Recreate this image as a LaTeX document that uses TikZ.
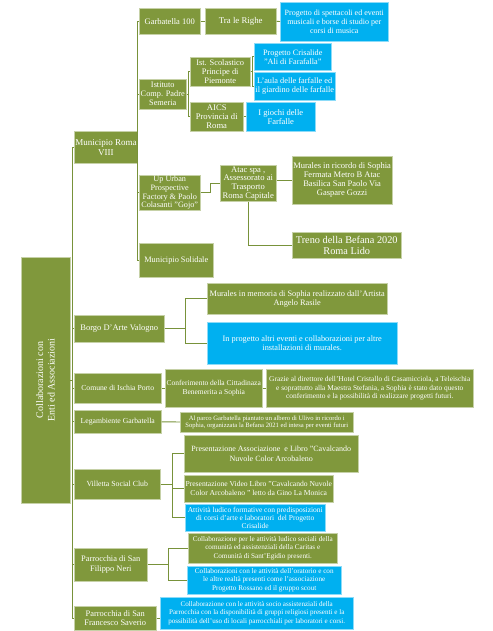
\documentclass[tikz,border=0pt]{standalone}
\usepackage{fontspec}
\setmainfont{Liberation Serif}
\usetikzlibrary{calc}
\definecolor{olivegrn}{RGB}{128,152,60}
\definecolor{skyblue} {RGB}{  0,176,240}
\definecolor{linkgrn} {RGB}{120,146,58}
\tikzset{
  gbox/.style      = {fill=olivegrn, draw=olivegrn!45!white, line width=0.5pt,
                      text=white, anchor=north west, align=center, inner sep=1pt},
  bbox/.style      = {gbox, fill=skyblue, draw=skyblue!45!white},
  fs/.style 2 args = {font=\fontsize{#1}{#2}\selectfont},
  sz/.style 2 args = {minimum width=#1, minimum height=#2},
  link/.style      = {draw=linkgrn, line width=0.9pt},
}

\begin{document}
\begin{tikzpicture}[x=1pt, y=-1pt]
  \useasboundingbox (0,0) rectangle (492,631);

  % ── root ──────────────────────────────────────────────────────────────────
  \node[gbox, anchor=center, rotate=90, sz={246}{49}, fs={10}{11.5}] (root)
    at (45.5,380) {Collaborazioni con\\Enti ed Associazioni};

  % ── first level ───────────────────────────────────────────────────────────
  \node[gbox, sz={61}{32}, fs={9}{10}]     (mun)      at (74,131) {Municipio Roma\\VIII};
  \node[gbox, sz={90}{27}, fs={8.5}{10}]   (borgo)    at (74,315) {Borgo D'Arte Valogno};
  \node[gbox, sz={87}{30}, fs={7.7}{9}]    (ischia)   at (74,373) {Comune di Ischia Porto};
  \node[gbox, sz={87}{23}, fs={7.7}{9}]    (legamb)   at (74,410) {Legambiente Garbatella};
  \node[gbox, sz={86}{30}, fs={7.8}{9}]    (villetta) at (74,469) {Villetta Social Club};
  \node[gbox, sz={73}{33}, fs={8.4}{9.6}]  (filippo)  at (74,548) {Parrocchia di San\\Filippo Neri};
  \node[gbox, sz={82}{24}, fs={8.4}{9.4}]  (saverio)  at (74,606) {Parrocchia di San\\Francesco Saverio};

  % ── Municipio Roma VIII ───────────────────────────────────────────────────
  \node[gbox, sz={61}{26}, fs={8.5}{10}]   (garb)  at (139,8)   {Garbatella 100};
  \node[gbox, sz={71}{26}, fs={8.8}{10}]   (righe) at (205,8)   {Tra le Righe};
  \node[bbox, sz={108}{39}, fs={8}{9.2}]   (spett) at (280,2)
    {Progetto di spettacoli ed eventi\\musicali e borse di studio per\\corsi di musica};

  \node[gbox, sz={47}{30}, fs={8.3}{9}]    (istit) at (139,79)  {Istituto\\Comp. Padre\\Semeria};
  \node[gbox, sz={60}{29}, fs={8.4}{9}]    (scol)  at (190,57)  {Ist. Scolastico\\Principe di\\Piemonte};
  \node[gbox, sz={53}{29}, fs={8.6}{9}]    (aics)  at (190,102) {AICS\\Provincia di\\Roma};
  \node[bbox, sz={77}{27}, fs={8.2}{9}]    (cris)  at (254,43)  {Progetto Crisalide\\"Ali di Farafalla"};
  \node[bbox, sz={81}{28}, fs={8.3}{9}]    (aula)  at (254,72)
    {L'aula delle farfalle ed\\il giardino delle farfalle};
  \node[bbox, sz={69}{29}, fs={8.5}{9.2}]  (giochi) at (246,102) {I giochi delle\\Farfalle};

  \node[gbox, sz={61}{34}, fs={8.2}{8.6}]  (upurb) at (139,175)
    {Up Urban\\Prospective\\Factory \& Paolo\\Colasanti "Gojo"};
  \node[gbox, sz={56}{36}, fs={8.6}{8.6}]  (atac)  at (220,165)
    {Atac spa ,\\Assessorato ai\\Trasporto\\Roma Capitale};
  \node[gbox, sz={99}{48}, fs={8.5}{9}]    (murric) at (292,156)
    {Murales in ricordo di Sophia\\Fermata Metro B Atac\\Basilica San Paolo Via\\Gaspare Gozzi};
  \node[gbox, sz={109}{26}, fs={10.3}{10.5}] (treno) at (292,232) {Treno della Befana 2020\\Roma Lido};

  \node[gbox, sz={74}{34}, fs={8.3}{10}]   (solid) at (139,243) {Municipio Solidale};

  % ── Borgo D'Arte Valogno ──────────────────────────────────────────────────
  \node[gbox, sz={180}{31}, fs={8.3}{9.4}] (murmem) at (207,283)
    {Murales in memoria di Sophia realizzato dall'Artista\\Angelo Rasile};
  \node[bbox, sz={190}{42}, fs={8.3}{9.4}] (inprog) at (207,322)
    {In progetto altri eventi e collaborazioni per altre\\installazioni di murales.};

  % ── Ischia / Legambiente ──────────────────────────────────────────────────
  \node[gbox, sz={97}{38}, fs={7.5}{8.8}]  (conf)   at (165,369)
    {Conferimento della Cittadinaza\\Benemerita a Sophia};
  \node[gbox, sz={207}{38}, fs={7.4}{8.4}] (grazie) at (266,369)
    {Grazie al direttore dell'Hotel Cristallo di Casamicciola, a Teleischia\\
     e soprattutto alla Maestra Stefania, a Sophia è stato dato questo\\
     conferimento e la possibilità di realizzare progetti futuri.};
  \node[gbox, sz={173}{20}, fs={6.6}{7.5}] (parco)  at (180,412)
    {Al parco Garbatella piantato un albero di Ulivo in ricordo i\\
     Sophia, organizzata la Befana 2021 ed intesa per eventi futuri};

  % ── Villetta Social Club ──────────────────────────────────────────────────
  \node[gbox, sz={174}{37}, fs={8}{9.2}]   (pres1) at (184,435)
    {Presentazione Associazione\ \ e Libro "Cavalcando\\Nuvole Color Arcobaleno};
  \node[gbox, sz={149}{27}, fs={7.6}{8.8}] (pres2) at (184,475)
    {Presentazione Video Libro "Cavalcando Nuvole\\Color Arcobaleno " letto da Gino La Monica};
  \node[bbox, sz={140}{27}, fs={7.5}{8.3}] (attiv) at (185,504)
    {Attività ludico formative con predisposizioni\\di corsi d'arte e laboratori\ \ del Progetto\\Crisalide};

  % ── Parrocchie ────────────────────────────────────────────────────────────
  \node[gbox, sz={149}{30}, fs={7.2}{8.4}] (collab)   at (188,533)
    {Collaborazione per le attività ludico sociali della\\comunità ed assistenziali della Caritas e\\
     Comunità di Sant'Egidio presenti.};
  \node[bbox, sz={154}{28}, fs={7.2}{8.4}] (oratorio) at (187,566)
    {Collaborazioni con le attività dell'oratorio e con\\le altre realtà presenti come l'associazione\\
     Progetto Rossano ed il gruppo scout};
  \node[bbox, sz={193}{32}, fs={7.1}{8.4}] (sblue)    at (160,597)
    {Collaborazione con le attività socio assistenziali della\\
     Parrocchia con la disponibilità di gruppi religiosi presenti e la\\
     possibilità dell'uso di locali parrocchiali per laboratori e corsi.};

  % ── connectors ────────────────────────────────────────────────────────────
  % root trunk
  \coordinate (rtop) at ($(mun.west)+(-2,0)$);
  \draw[link] (rtop) -- (rtop |- saverio.west);
  \draw[link] (root.south) -- (root.south -| rtop);
  \foreach \n in {mun,borgo,ischia,legamb,villetta,filippo,saverio}
    \draw[link] (\n.west -| rtop) -- (\n.west);

  % Municipio Roma VIII
  \coordinate (mtop) at ($(garb.west)+(-2,0)$);
  \draw[link] (mtop) -- (mtop |- solid.west);
  \draw[link] (mun.east) -- (mun.east -| mtop);
  \foreach \n in {garb,istit,upurb,solid}
    \draw[link] (\n.west -| mtop) -- (\n.west);
  \draw[link] (garb) -- (righe);
  \draw[link] (righe) -- (spett);

  % Istituto and Ist. Scolastico
  \coordinate (itop) at ($(scol.west)+(-2,0)$);
  \draw[link] (itop) -- (itop |- aics.west);
  \draw[link] (istit.east) -- (istit.east -| itop);
  \foreach \n in {scol,aics}
    \draw[link] (\n.west -| itop) -- (\n.west);
  \coordinate (stop) at ($(cris.west)+(-2,0)$);
  \draw[link] (stop) -- (stop |- aula.west);
  \draw[link] (scol.east) -- (scol.east -| stop);
  \foreach \n in {cris,aula}
    \draw[link] (\n.west -| stop) -- (\n.west);
  \draw[link] (aics) -- (giochi);

  % Up Urban and Atac
  \draw[link] (upurb.east) -- ++(10,0) |- (atac.west);
  \draw[link] (murric.west -| atac.east) -- (murric.west);
  \draw[link] (atac.south) |- (treno.west);

  % Borgo
  \coordinate (btop) at ($(murmem.west)+(-22,0)$);
  \draw[link] (btop) -- (btop |- inprog.west);
  \draw[link] (borgo.east) -- (borgo.east -| btop);
  \foreach \n in {murmem,inprog}
    \draw[link] (\n.west -| btop) -- (\n.west);

  % Ischia, Legambiente
  \draw[link] (ischia) -- (conf);
  \draw[link] (conf) -- (grazie);
  \draw[link] (legamb) -- (parco);

  % Villetta
  \coordinate (vtop) at ($(pres1.west)+(-12,0)$);
  \draw[link] (vtop) -- (vtop |- attiv.west);
  \draw[link] (villetta.east) -- (villetta.east -| vtop);
  \foreach \n in {pres1,pres2,attiv}
    \draw[link] (\n.west -| vtop) -- (\n.west);

  % Parrocchie
  \coordinate (ftop) at ($(collab.west)+(-20,0)$);
  \draw[link] (ftop) -- (ftop |- oratorio.west);
  \draw[link] (filippo.east) -- (filippo.east -| ftop);
  \foreach \n in {collab,oratorio}
    \draw[link] (\n.west -| ftop) -- (\n.west);
  \draw[link] (saverio.east) -- (saverio.east -| sblue.west);

\end{tikzpicture}
\end{document}
